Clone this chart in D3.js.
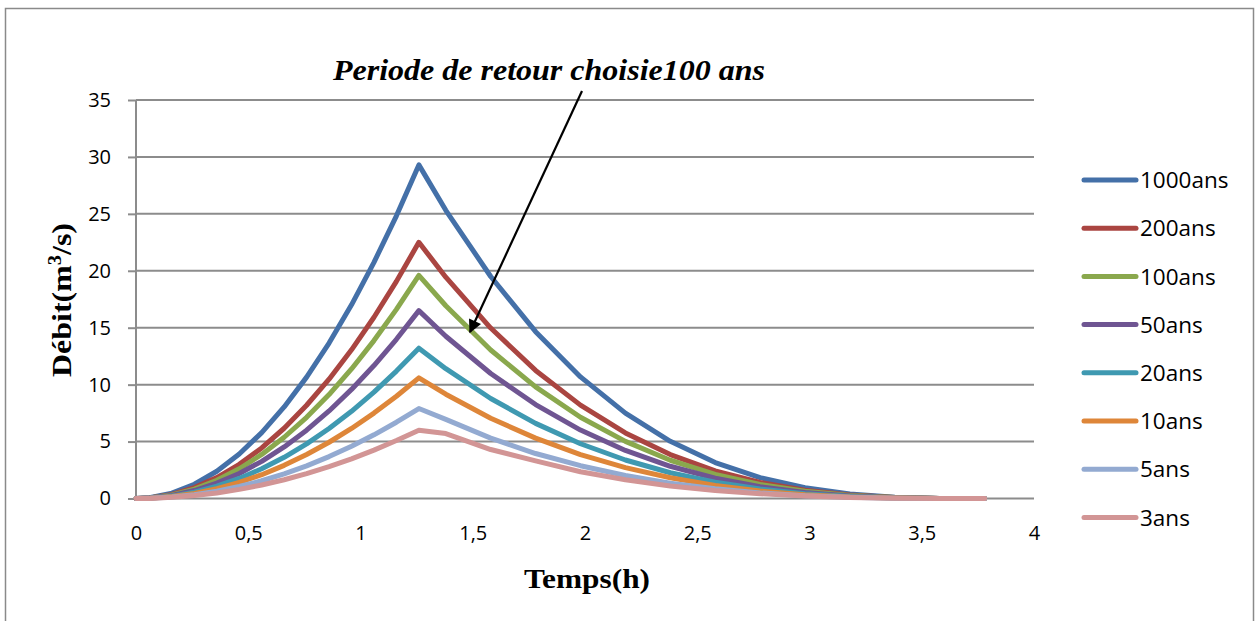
<!DOCTYPE html>
<html>
<head>
<meta charset="utf-8">
<script src="https://cdn.jsdelivr.net/npm/d3@7"></script>
<style>
  html, body { margin: 0; padding: 0; background: #fff; }
  svg { display: block; }
</style>
</head>
<body>
<svg id="chart" width="1257" height="621"></svg>
<script>
// Temps (h) for every hydrograph point
const temps = [0, 0.06, 0.16, 0.26, 0.36, 0.46, 0.56, 0.66, 0.76, 0.86, 0.96, 1.06, 1.16, 1.26,
               1.38, 1.58, 1.78, 1.98, 2.18, 2.38, 2.58, 2.78, 2.98, 3.18, 3.38, 3.58, 3.78];

// Débit (m3/s) per return period
const q1000 = [0, 0.07, 0.47, 1.25, 2.39, 3.91, 5.79, 8.04, 10.66, 13.65, 17.01, 20.74, 24.83, 29.3,
               25.31, 19.50, 14.65, 10.68, 7.50, 5.02, 3.16, 1.83, 0.94, 0.40, 0.12, 0.01, 0];
const q200  = [0, 0.05, 0.36, 0.96, 1.84, 3.00, 4.44, 6.17, 8.19, 10.48, 13.06, 15.92, 19.07, 22.5,
               19.44, 14.97, 11.25, 8.20, 5.76, 3.86, 2.43, 1.41, 0.72, 0.30, 0.09, 0.01, 0];
const q100  = [0, 0.05, 0.32, 0.83, 1.60, 2.61, 3.87, 5.38, 7.13, 9.13, 11.38, 13.87, 16.61, 19.6,
               16.93, 13.04, 9.80, 7.14, 5.02, 3.36, 2.12, 1.23, 0.63, 0.26, 0.08, 0.01, 0];
const q50   = [0, 0.04, 0.27, 0.70, 1.35, 2.20, 3.26, 4.53, 6.00, 7.69, 9.58, 11.68, 13.98, 16.5,
               14.25, 10.98, 8.25, 6.01, 4.22, 2.83, 1.78, 1.03, 0.53, 0.22, 0.07, 0.01, 0];
const q20   = [0, 0.03, 0.21, 0.56, 1.08, 1.76, 2.61, 3.62, 4.80, 6.15, 7.66, 9.34, 11.19, 13.2,
               11.40, 8.78, 6.60, 4.81, 3.38, 2.26, 1.43, 0.83, 0.42, 0.18, 0.05, 0.01, 0];
const q10   = [0, 0.02, 0.17, 0.45, 0.87, 1.41, 2.09, 2.91, 3.86, 4.94, 6.15, 7.50, 8.98, 10.6,
               9.16, 7.05, 5.30, 3.86, 2.71, 1.82, 1.14, 0.66, 0.34, 0.14, 0.04, 0.01, 0];
const q5    = [0, 0.02, 0.13, 0.34, 0.64, 1.05, 1.56, 2.17, 2.87, 3.68, 4.59, 5.59, 6.70, 7.9,
               6.95, 5.30, 3.95, 2.88, 2.02, 1.35, 0.85, 0.49, 0.25, 0.11, 0.03, 0.00, 0];
const q3    = [0, 0.01, 0.10, 0.26, 0.49, 0.80, 1.19, 1.65, 2.18, 2.80, 3.48, 4.25, 5.09, 6.0,
               5.70, 4.30, 3.30, 2.35, 1.65, 1.10, 0.70, 0.42, 0.22, 0.09, 0.03, 0.00, 0];

const seriesNames = ["1000ans", "200ans", "100ans", "50ans", "20ans", "10ans", "5ans", "3ans"];
const seriesValues = [q1000, q200, q100, q50, q20, q10, q5, q3];
const seriesColors = ["#4470A8", "#AA4541", "#8AA84D", "#6F5592", "#3F99B1", "#DE8639", "#93AAD1", "#D29595"];

const xTicks = [0, 0.5, 1, 1.5, 2, 2.5, 3, 3.5, 4];
const xTickLabels = ["0", "0,5", "1", "1,5", "2", "2,5", "3", "3,5", "4"];
const yTicks = [0, 5, 10, 15, 20, 25, 30, 35];

const svg = d3.select("#chart");

// outer chart frame
svg.append("rect")
  .attr("x", 5.5).attr("y", 8.5)
  .attr("width", 1248).attr("height", 640)
  .attr("fill", "none").attr("stroke", "#8a8a8a").attr("stroke-width", 1.5);

const x = d3.scaleLinear().domain([0, 4]).range([136, 1034]);
const y = d3.scaleLinear().domain([0, 35]).range([498.5, 100]);

// horizontal gridlines
svg.append("g")
  .selectAll("line")
  .data(yTicks)
  .join("line")
  .attr("x1", x(0)).attr("x2", x(4))
  .attr("y1", d => y(d)).attr("y2", d => y(d))
  .attr("stroke", "#8c8c8c").attr("stroke-width", 2);

// y axis
const yAxis = d3.axisLeft(y).tickValues(yTicks).tickSize(8).tickPadding(17).tickFormat(d3.format("d"));
const gy = svg.append("g").attr("transform", `translate(${x(0)},0)`).call(yAxis);
gy.select(".domain").attr("stroke", "#8c8c8c").attr("stroke-width", 2).attr("d", `M0,${y(35)}V${y(0)}`);
gy.selectAll(".tick line").attr("stroke", "#8c8c8c").attr("stroke-width", 2);
gy.selectAll(".tick text")
  .attr("font-family", "'Open Sans', 'Noto Sans', sans-serif")
  .attr("font-size", 20).attr("fill", "#000");

// x axis (labels only, the baseline is the 0 gridline)
const xAxis = d3.axisBottom(x).tickValues(xTicks).tickSize(0).tickPadding(27)
  .tickFormat((d, i) => xTickLabels[i]);
const gx = svg.append("g").attr("transform", `translate(0,${y(0)})`).call(xAxis);
gx.select(".domain").remove();
gx.selectAll(".tick text")
  .attr("font-family", "'Open Sans', 'Noto Sans', sans-serif")
  .attr("font-size", 20).attr("fill", "#000");

// hydrograph lines
const line = d3.line()
  .x((d, i) => x(temps[i]))
  .y(d => y(d));

svg.append("g")
  .selectAll("path")
  .data(seriesValues)
  .join("path")
  .attr("d", d => line(d))
  .attr("fill", "none")
  .attr("stroke", (d, i) => seriesColors[i])
  .attr("stroke-width", 5)
  .attr("stroke-linejoin", "round")
  .attr("stroke-linecap", "round");

// legend
const legend = svg.append("g");
const legendItems = legend.selectAll("g")
  .data(seriesNames)
  .join("g")
  .attr("transform", (d, i) => `translate(1084,${180 + i * 48.2})`);
legendItems.append("line")
  .attr("x1", 0).attr("x2", 52)
  .attr("stroke", (d, i) => seriesColors[i])
  .attr("stroke-width", 5)
  .attr("stroke-linecap", "round");
legendItems.append("text")
  .attr("x", 56).attr("dy", "0.36em")
  .attr("font-family", "'Open Sans', 'Noto Sans', sans-serif")
  .attr("font-size", 22.5)
  .text(d => d);

// axis titles
svg.append("text")
  .attr("x", 587).attr("y", 588)
  .attr("text-anchor", "middle")
  .attr("font-family", "'Liberation Serif', 'Times New Roman', serif")
  .attr("font-weight", "bold").attr("font-size", 28)
  .attr("textLength", 126).attr("lengthAdjust", "spacingAndGlyphs")
  .text("Temps(h)");

const yTitle = svg.append("text")
  .attr("transform", "translate(71,300) rotate(-90)")
  .attr("text-anchor", "middle")
  .attr("font-family", "'Liberation Serif', 'Times New Roman', serif")
  .attr("font-weight", "bold").attr("font-size", 28)
  .attr("textLength", 154).attr("lengthAdjust", "spacingAndGlyphs");
yTitle.append("tspan").text("Débit(m");
yTitle.append("tspan").attr("dy", -10).attr("font-size", 18).text("3");
yTitle.append("tspan").attr("dy", 10).text("/s)");

// annotation for the retained return period
svg.append("defs").append("marker")
  .attr("id", "arrowhead")
  .attr("viewBox", "0 0 10 10")
  .attr("refX", 9).attr("refY", 5)
  .attr("markerWidth", 7).attr("markerHeight", 6)
  .attr("markerUnits", "strokeWidth")
  .attr("orient", "auto")
  .append("path")
  .attr("d", "M0,0L10,5L0,10Z")
  .attr("fill", "#000");

svg.append("line")
  .attr("x1", 582).attr("y1", 91)
  .attr("x2", 470).attr("y2", 332)
  .attr("stroke", "#000").attr("stroke-width", 2.2)
  .attr("marker-end", "url(#arrowhead)");

svg.append("text")
  .attr("x", 549).attr("y", 80)
  .attr("text-anchor", "middle")
  .attr("font-family", "'Liberation Serif', 'Times New Roman', serif")
  .attr("font-weight", "bold").attr("font-style", "italic").attr("font-size", 29)
  .attr("textLength", 432).attr("lengthAdjust", "spacingAndGlyphs")
  .text("Periode de retour choisie100 ans");
</script>
</body>
</html>
